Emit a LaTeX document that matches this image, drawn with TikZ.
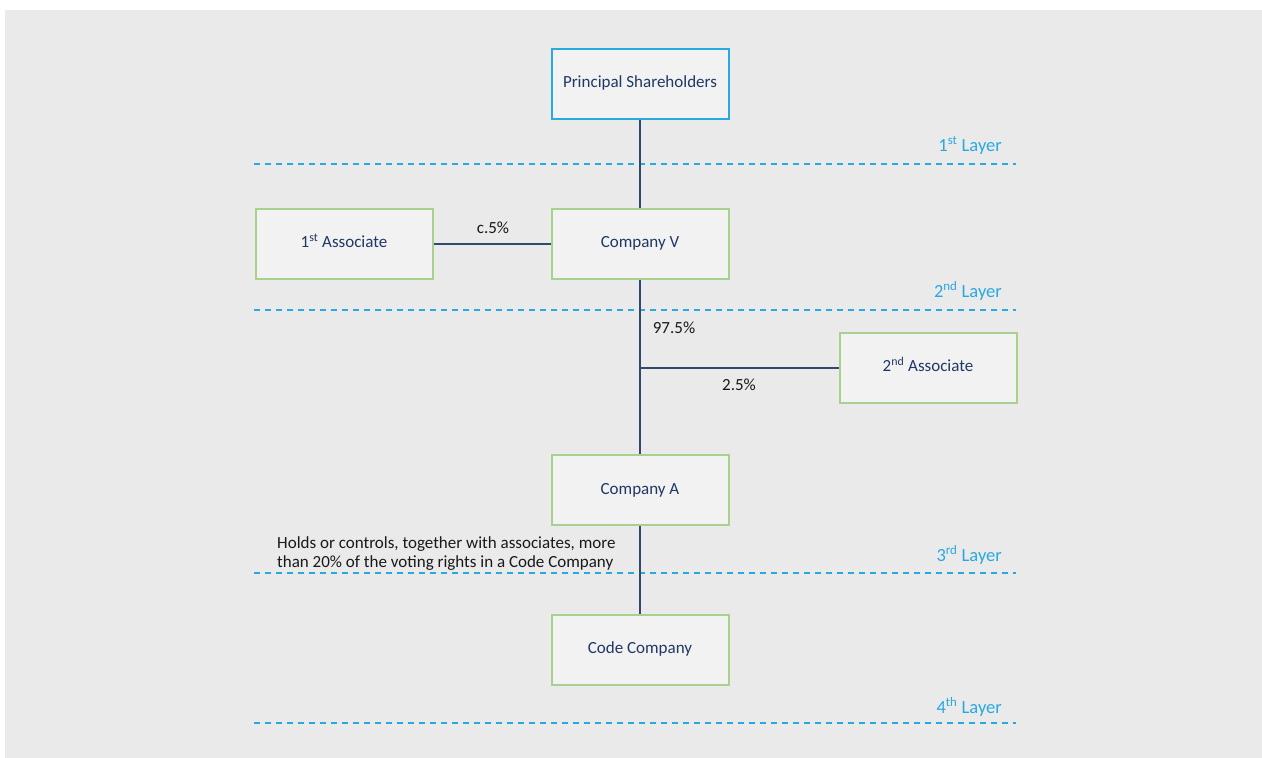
\documentclass[tikz,border=0pt]{standalone}
\usepackage{fontspec}
\setmainfont{Carlito}
\definecolor{bg}{HTML}{EAEAEA}
\definecolor{boxfill}{HTML}{F2F2F2}
\definecolor{bluebd}{HTML}{29A9E1}
\definecolor{greenbd}{HTML}{A9D18E}
\definecolor{navy}{HTML}{1F3864}
\definecolor{linec}{HTML}{2F4A6D}
\definecolor{layerc}{HTML}{29A9E1}
\begin{document}
\begin{tikzpicture}[x=1pt,y=-1pt,
  entbox/.style={draw=greenbd,line width=2pt,fill=boxfill,minimum width=177pt,minimum height=70pt,inner sep=0pt,text height=12pt,text depth=4pt,text=navy,font=\fontsize{17}{19}\selectfont},
  topbox/.style={entbox,draw=bluebd},
  conn/.style={draw=linec,line width=2pt},
  layerline/.style={draw=layerc,line width=1.6pt,dash pattern=on 6pt off 5pt},
  layerlbl/.style={text=layerc,font=\fontsize{18.5}{20}\selectfont,anchor=base east,inner sep=0pt},
  pct/.style={text=black!90,font=\fontsize{17}{19}\selectfont,inner sep=0pt}]
\useasboundingbox (0,0) rectangle (1262,758);
\fill[white] (0,0) rectangle (1262,758);
\fill[bg] (5,10) rectangle (1262,758);
% layer lines
\coordinate (l1a) at (254,164); \coordinate (l1b) at (1016,164);
\coordinate (l2a) at (254,310); \coordinate (l2b) at (1016,310);
\coordinate (l3a) at (254,573); \coordinate (l3b) at (1016,573);
\coordinate (l4a) at (254,723); \coordinate (l4b) at (1016,723);
\draw[layerline] (l1a) -- (l1b);
\draw[layerline] (l2a) -- (l2b);
\draw[layerline] (l3a) -- (l3b);
\draw[layerline] (l4a) -- (l4b);
\node[layerlbl] (lay1) at (1002,151) {1\textsuperscript{st} Layer};
\node[layerlbl] (lay2) at (1002,297) {2\textsuperscript{nd} Layer};
\node[layerlbl] (lay3) at (1002,561) {3\textsuperscript{rd} Layer};
\node[layerlbl] (lay4) at (1002,713) {4\textsuperscript{th} Layer};
% boxes
\node[topbox] (ps) at (640,83.5) {Principal Shareholders};
\node[entbox] (a1) at (344,243.5) {1\textsuperscript{st} Associate};
\node[entbox] (cv) at (640,243.5) {Company V};
\node[entbox] (a2) at (928,367.5) {2\textsuperscript{nd} Associate};
\node[entbox] (ca) at (640,490) {Company A};
\node[entbox] (cc) at (640,649.5) {Code Company};
% connectors
\coordinate (br) at (640,367.5);
\draw[conn] (ps.south) -- (cv.north);
\draw[conn] (a1.east) -- (cv.west);
\draw[conn] (cv.south) -- (ca.north);
\draw[conn] (br) -- (a2.west);
\draw[conn] (ca.south) -- (cc.north);
% labels
\node[pct] (p1) at (493,228) {c.5\%};
\node[pct] (p2) at (674,328) {97.5\%};
\node[pct] (p3) at (739,385) {2.5\%};
\node[pct,anchor=north west,align=left,font=\fontsize{17}{19}\selectfont] (note) at (277,536) {Holds or controls, together with associates, more\\than 20\% of the voting rights in a Code Company};
\end{tikzpicture}
\end{document}
